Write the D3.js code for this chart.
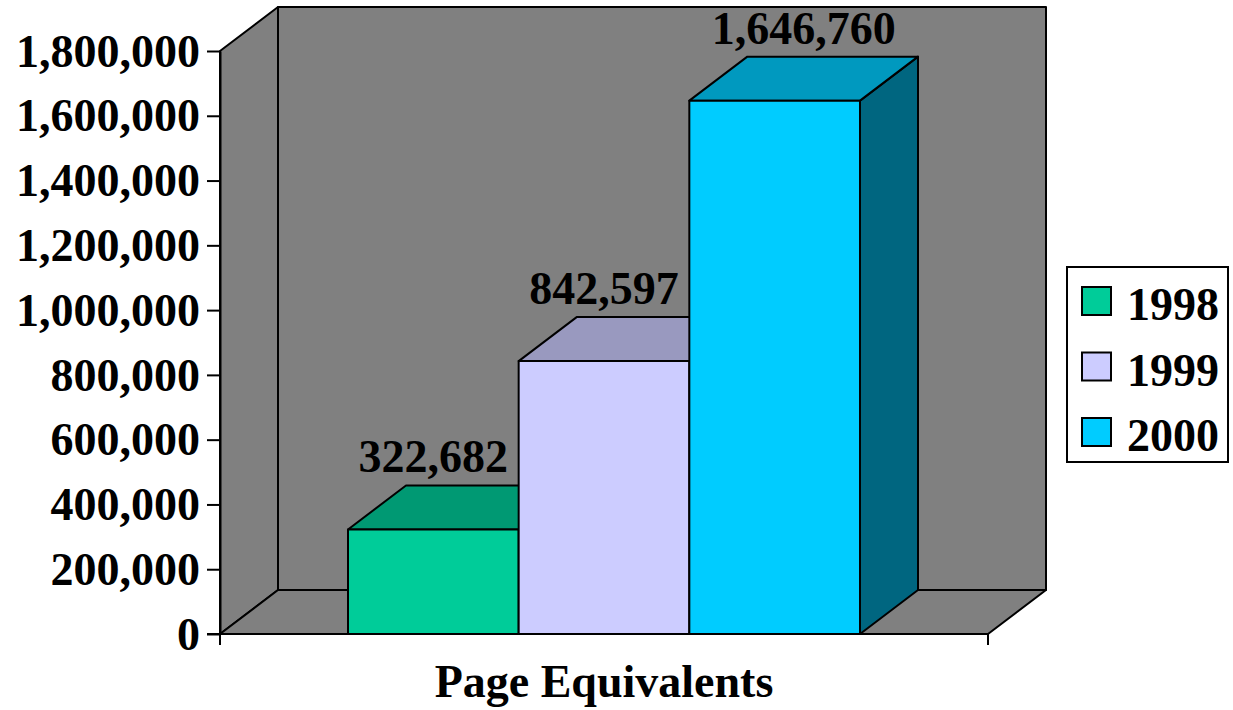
<!DOCTYPE html>
<html>
<head>
<meta charset="utf-8">
<script src="https://cdn.jsdelivr.net/npm/d3@7"></script>
<style>
  body { margin: 0; background: #fff; }
  svg text { font-family: "Liberation Serif", "Times New Roman", serif; font-weight: bold; }
</style>
</head>
<body>
<svg id="chart" width="1233" height="710"></svg>
<script>
// chart data
const categories = ['Page Equivalents'];
const years = ['1998', '1999', '2000'];
const pageEquivalents = [322682, 842597, 1646760];
const yTicks = [0, 200000, 400000, 600000, 800000, 1000000, 1200000, 1400000, 1600000, 1800000];

const colors = {
  '1998': { front: '#00cc99', top: '#009973', side: '#007a5c' },
  '1999': { front: '#ccccff', top: '#9999bf', side: '#7a7a99' },
  '2000': { front: '#00ccff', top: '#0099bf', side: '#006680' },
};

const svg = d3.select('#chart');
const depth = { dx: 58, dy: -44 };
const fontSize = 46;

const y = d3.scaleLinear().domain([0, 1800000]).range([634, 51]);
const x0 = d3.scaleBand().domain(categories).range([220, 988]).padding(0);
const groupPad = x0.bandwidth() / 6;
const x1 = d3.scaleBand().domain(years)
  .range([x0(categories[0]) + groupPad, x0(categories[0]) + x0.bandwidth() - groupPad]);

const plotLeft = x0.range()[0];
const plotRight = x0.range()[1];
const plotBottom = y(0);
const plotTop = y(1800000);

const poly = (pts) => pts.map((p) => `${p[0]},${p[1]}`).join(' ');

// walls and floor
const walls = svg.append('g')
  .attr('stroke', '#000')
  .attr('stroke-width', 2)
  .attr('stroke-linejoin', 'round')
  .attr('fill', '#808080');

walls.append('polygon') // back wall
  .attr('points', poly([
    [plotLeft + depth.dx, plotTop + depth.dy], [plotRight + depth.dx, plotTop + depth.dy],
    [plotRight + depth.dx, plotBottom + depth.dy], [plotLeft + depth.dx, plotBottom + depth.dy],
  ]));
walls.append('polygon') // side wall
  .attr('points', poly([
    [plotLeft, plotTop], [plotLeft + depth.dx, plotTop + depth.dy],
    [plotLeft + depth.dx, plotBottom + depth.dy], [plotLeft, plotBottom],
  ]));
walls.append('polygon') // floor
  .attr('points', poly([
    [plotLeft, plotBottom], [plotLeft + depth.dx, plotBottom + depth.dy],
    [plotRight + depth.dx, plotBottom + depth.dy], [plotRight, plotBottom],
  ]));

// bars
const data = years.map((yr, i) => ({ year: yr, value: pageEquivalents[i] }));

const bars = svg.append('g')
  .attr('stroke', '#000')
  .attr('stroke-width', 2)
  .attr('stroke-linejoin', 'round')
  .selectAll('g')
  .data(data)
  .join('g');

bars.append('polygon') // side
  .attr('fill', (d) => colors[d.year].side)
  .attr('points', (d) => {
    const xr = x1(d.year) + x1.bandwidth();
    return poly([
      [xr, y(d.value)], [xr + depth.dx, y(d.value) + depth.dy],
      [xr + depth.dx, plotBottom + depth.dy], [xr, plotBottom],
    ]);
  });

bars.append('polygon') // top
  .attr('fill', (d) => colors[d.year].top)
  .attr('points', (d) => {
    const xl = x1(d.year);
    const xr = xl + x1.bandwidth();
    const yt = y(d.value);
    return poly([
      [xl, yt], [xl + depth.dx, yt + depth.dy],
      [xr + depth.dx, yt + depth.dy], [xr, yt],
    ]);
  });

bars.append('rect') // front
  .attr('fill', (d) => colors[d.year].front)
  .attr('x', (d) => x1(d.year))
  .attr('y', (d) => y(d.value))
  .attr('width', x1.bandwidth())
  .attr('height', (d) => plotBottom - y(d.value));

// value labels (pushed right and clamped when they would rise over the wall)
const fmt = d3.format(',');
const tooHigh = (d) => y(d.value) - 57 < plotTop;
svg.append('g')
  .selectAll('text')
  .data(data)
  .join('text')
  .attr('text-anchor', 'middle')
  .attr('font-size', fontSize)
  .attr('x', (d) => {
    const cx = x1(d.year) + x1.bandwidth() / 2;
    return tooHigh(d) ? cx + depth.dx / 2 : cx;
  })
  .attr('y', (d) => Math.max(y(d.value) - 57, 38))
  .text((d) => fmt(d.value));

// y axis
const yAxis = svg.append('g')
  .attr('transform', `translate(${plotLeft},0)`)
  .call(d3.axisLeft(y).tickValues(yTicks).tickFormat(fmt).tickSize(13).tickSizeOuter(0).tickPadding(7));
yAxis.select('.domain').attr('stroke-width', 2);
yAxis.selectAll('.tick line').attr('stroke-width', 2);
yAxis.selectAll('.tick text')
  .attr('font-size', fontSize)
  .attr('fill', '#000')
  .attr('dy', '0.33em');

// x axis
const xAxis = svg.append('g').attr('stroke', '#000').attr('stroke-width', 2);
xAxis.append('line')
  .attr('x1', plotLeft - 13).attr('x2', plotRight)
  .attr('y1', plotBottom).attr('y2', plotBottom);
xAxis.selectAll('line.tick')
  .data(x0.range())
  .join('line')
  .attr('class', 'tick')
  .attr('x1', (d) => d).attr('x2', (d) => d)
  .attr('y1', plotBottom).attr('y2', plotBottom + 11);

svg.append('g')
  .selectAll('text')
  .data(categories)
  .join('text')
  .attr('text-anchor', 'middle')
  .attr('font-size', fontSize)
  .attr('x', (d) => x0(d) + x0.bandwidth() / 2)
  .attr('y', 697)
  .text((d) => d);

// legend
const legend = svg.append('g').attr('transform', 'translate(1067,267)');
legend.append('rect')
  .attr('width', 161).attr('height', 195)
  .attr('fill', '#fff').attr('stroke', '#000').attr('stroke-width', 2);
const rows = legend.selectAll('g.row')
  .data(years)
  .join('g')
  .attr('class', 'row')
  .attr('transform', (d, i) => `translate(15,${20 + i * 65.5})`);
rows.append('rect')
  .attr('width', 29).attr('height', 28)
  .attr('fill', (d) => colors[d].front)
  .attr('stroke', '#000').attr('stroke-width', 2);
rows.append('text')
  .attr('x', 45).attr('y', 33)
  .attr('font-size', fontSize)
  .text((d) => d);
</script>
</body>
</html>
